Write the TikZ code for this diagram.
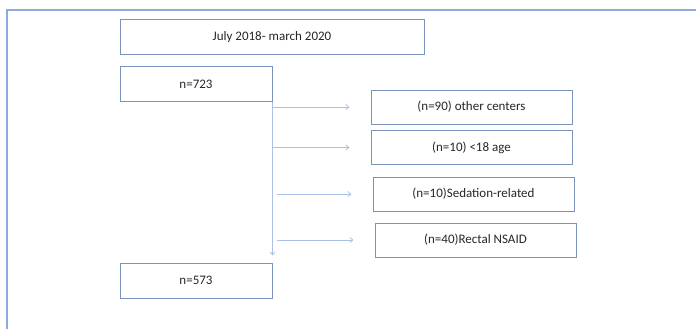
\documentclass[tikz,border=0pt]{standalone}
\usepackage{fontspec}
\setmainfont{Carlito}
\usetikzlibrary{arrows.meta}
\definecolor{framecol}{RGB}{143,170,220}
\definecolor{boxcol}{RGB}{124,146,190}
\definecolor{linecol}{RGB}{170,192,230}
\tikzset{
  stagebox/.style={draw=boxcol,line width=1pt,minimum height=34pt,inner sep=0pt,text=black!85,font=\fontsize{13}{15}\selectfont},
  flow/.style={draw=linecol,line width=0.8pt,-{Straight Barb[length=3pt,width=5pt]}}
}
\begin{document}
\begin{tikzpicture}[x=1pt,y=-1pt]
            \useasboundingbox (0,0) rectangle (696,329);
            \draw[framecol,line width=1.2pt] (7,329) -- (7,10) -- (696,10);
            \node[stagebox,minimum width=304pt,minimum height=35pt] (period) at (272,37.5) {July 2018- march 2020};
            \node[stagebox,minimum width=152pt] (start) at (196,84) {n=723};
            \node[stagebox,minimum width=152pt,minimum height=35pt] (final) at (196,280.5) {n=573};
            \draw[flow,shorten >=7pt] (start.south east) -- (final.north east);
            \foreach \i/\x/\y/\dx/\label in {1/471.5/107/0/{(n=90) other centers},2/471.5/147.5/0/{(n=10) <18 age},3/473.5/194/4/{(n=10)Sedation-related},4/475.5/240/4/{(n=40)Rectal NSAID}} {
                \node[stagebox,minimum width=201pt] (ex\i) at (\x,\y) {\label};
                \coordinate (t\i) at ([xshift=\dx pt]start.east |- ex\i.west);
                \draw[flow] (t\i) -- ([xshift=-21pt]ex\i.west);
            }
        \end{tikzpicture}
\end{document}
